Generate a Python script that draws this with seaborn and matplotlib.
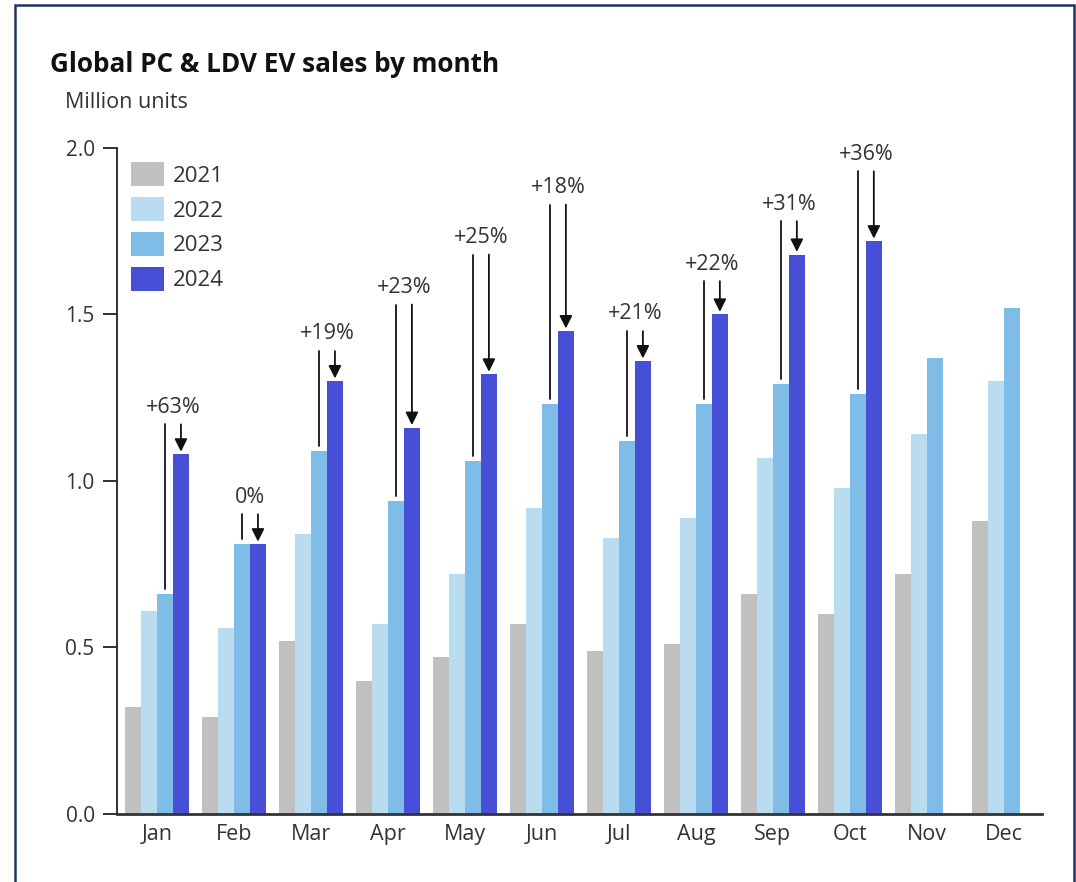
import pandas as pd
import numpy as np
import seaborn as sns
import matplotlib.pyplot as plt
from matplotlib.patches import Rectangle

months = ['Jan', 'Feb', 'Mar', 'Apr', 'May', 'Jun', 'Jul', 'Aug', 'Sep', 'Oct', 'Nov', 'Dec']
years = ['2021', '2022', '2023', '2024']

sales_2021 = [0.32, 0.29, 0.52, 0.40, 0.47, 0.57, 0.49, 0.51, 0.66, 0.60, 0.72, 0.88]
sales_2022 = [0.61, 0.56, 0.84, 0.57, 0.72, 0.92, 0.83, 0.89, 1.07, 0.98, 1.14, 1.30]
sales_2023 = [0.66, 0.81, 1.09, 0.94, 1.06, 1.23, 1.12, 1.23, 1.29, 1.26, 1.37, 1.52]
sales_2024 = [1.08, 0.81, 1.30, 1.16, 1.32, 1.45, 1.36, 1.50, 1.68, 1.72]

growth_labels = ['+63%', '0%', '+19%', '+23%', '+25%', '+18%', '+21%', '+22%', '+31%', '+36%']
# height of the bracket line above each month's bars (million units)
bracket_tops = [1.17, 0.90, 1.39, 1.53, 1.68, 1.83, 1.45, 1.60, 1.78, 1.93]

colors = ['#c0c0c0', '#badcf0', '#7fbde8', '#474fd6']
text_color = '#333333'

rows = []
for year, values in zip(years, [sales_2021, sales_2022, sales_2023, sales_2024]):
    for month, value in zip(months, values):
        rows.append({'month': month, 'year': year, 'sales': value})
data = pd.DataFrame(rows)

sns.set_theme(style='ticks')
plt.rcParams['font.family'] = ['Open Sans', 'DejaVu Sans']

fig = plt.figure(figsize=(10.76, 8.82), dpi=100)
ax = fig.add_axes([0.1087, 0.0771, 0.8593, 0.7551])

sns.barplot(data=data, x='month', y='sales', hue='year', order=months, hue_order=years,
            palette=colors, saturation=1, width=0.83, errorbar=None, linewidth=0,
            edgecolor='none', ax=ax)

ax.set_xlim(-0.52, 11.49)
ax.set_ylim(0, 2.0)
ax.set_yticks([0.0, 0.5, 1.0, 1.5, 2.0])
ax.set_yticklabels(['0.0', '0.5', '1.0', '1.5', '2.0'])
ax.set_xlabel('')
ax.set_ylabel('')
ax.tick_params(axis='y', length=10, width=1.3, color='#222222', labelsize=15,
               labelcolor=text_color, pad=6)
ax.tick_params(axis='x', length=0, labelsize=15.5, labelcolor=text_color, pad=7)
sns.despine(ax=ax)
ax.spines['left'].set_linewidth(1.3)
ax.spines['left'].set_color('#222222')
ax.spines['bottom'].set_linewidth(2)
ax.spines['bottom'].set_color('#333333')

bars_2023 = ax.containers[2]
bars_2024 = ax.containers[3]
for i, label in enumerate(growth_labels):
    b23 = bars_2023[i]
    b24 = bars_2024[i]
    x23 = b23.get_x() + b23.get_width() / 2
    x24 = b24.get_x() + b24.get_width() / 2
    top = bracket_tops[i]
    ax.plot([x23, x23], [b23.get_height() + 0.015, top], color='#111111', lw=1.3)
    ax.annotate('', xy=(x24, b24.get_height() + 0.008), xytext=(x24, top),
                arrowprops=dict(arrowstyle='-|>', color='#111111', lw=1.3,
                                mutation_scale=19, shrinkA=0, shrinkB=0))
    ax.text((x23 + x24) / 2, top + 0.035, label, ha='center', va='baseline',
            fontsize=15.5, color=text_color)

ax.legend(loc='upper left', bbox_to_anchor=(0.0, 1.0), frameon=False, fontsize=16,
          handlelength=1.45, handleheight=1.25, labelspacing=0.48, handletextpad=0.4,
          borderaxespad=0.25, labelcolor=text_color)

fig.text(50 / 1076, 1 - 65 / 882, 'Global PC & LDV EV sales by month', fontsize=18.8,
         fontweight='bold', color='#111111', va='center', ha='left')
fig.text(65 / 1076, 1 - 103 / 882, 'Million units', fontsize=15.5, color=text_color,
         va='center', ha='left')

fig.patches.append(Rectangle((15 / 1076, -0.01), (1074 - 15) / 1076, 1.01 - 5 / 882,
                             transform=fig.transFigure, fill=False,
                             edgecolor='#1f3560', lw=1.8))

fig.savefig('out.png', dpi=100)
